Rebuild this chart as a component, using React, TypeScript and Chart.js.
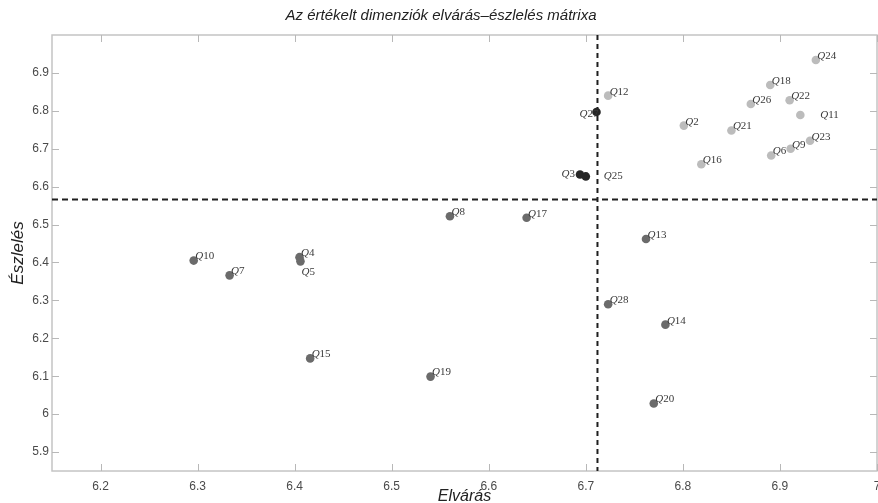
import React, { useEffect, useRef } from "react";
import { Chart, registerables } from "chart.js";

Chart.register(...registerables);

// ---- Data ----
const TITLE = "Az értékelt dimenziók elvárás–észlelés mátrixa";
const X_TITLE = "Elvárás";
const Y_TITLE = "Észlelés";

// Upper-right quadrant (light grey)
const LIGHT_NAMES = ["Q24", "Q18", "Q26", "Q22", "Q11", "Q2", "Q21", "Q6", "Q9", "Q23", "Q16", "Q12"];
const LIGHT_X = [6.937, 6.89, 6.87, 6.91, 6.921, 6.801, 6.85, 6.891, 6.911, 6.931, 6.819, 6.723];
const LIGHT_Y = [6.934, 6.868, 6.818, 6.828, 6.789, 6.761, 6.748, 6.682, 6.7, 6.721, 6.659, 6.84];

// Near the means (dark)
const DARK_NAMES = ["Q27", "Q3", "Q25"];
const DARK_X = [6.711, 6.694, 6.7];
const DARK_Y = [6.797, 6.632, 6.627];

// Others (medium grey)
const MID_NAMES = ["Q10", "Q7", "Q4", "Q5", "Q15", "Q19", "Q8", "Q17", "Q13", "Q28", "Q14", "Q20"];
const MID_X = [6.296, 6.333, 6.405, 6.406, 6.416, 6.54, 6.56, 6.639, 6.762, 6.723, 6.782, 6.77];
const MID_Y = [6.405, 6.366, 6.414, 6.403, 6.147, 6.099, 6.522, 6.518, 6.462, 6.29, 6.236, 6.028];

const MEAN_X = 6.712;
const MEAN_Y = 6.566;

const X_MIN = 6.15;
const X_MAX = 7.0;
const Y_MIN = 5.85;
const Y_MAX = 7.0;
const X_TICKS = [6.2, 6.3, 6.4, 6.5, 6.6, 6.7, 6.8, 6.9, 7];
const Y_TICKS = [5.9, 6, 6.1, 6.2, 6.3, 6.4, 6.5, 6.6, 6.7, 6.8, 6.9];

// ---- Label placement (style, not data) ----
type Place = { dx: number; dy: number; align: "left" | "right" };
const DEFAULT_PLACE: Place = { dx: 1.5, dy: -4, align: "left" };
const LABEL_PLACE: Record<string, Place> = {
  Q11: { dx: 20, dy: 0, align: "left" },
  Q25: { dx: 18, dy: 0, align: "left" },
  Q27: { dx: 2, dy: 2, align: "right" },
  Q3: { dx: -5, dy: 0, align: "right" },
  Q5: { dx: 1, dy: 11, align: "left" },
};

const toPoints = (xs: number[], ys: number[]) => xs.map((x, i) => ({ x, y: ys[i] }));

const framePlugin = {
  id: "frameAndMeans",
  beforeDatasetsDraw(chart: any) {
    const { ctx, chartArea: a, scales } = chart;
    const xs = scales.x;
    const ys = scales.y;
    ctx.save();
    // frame
    ctx.strokeStyle = "#c4c4c4";
    ctx.lineWidth = 1.5;
    ctx.strokeRect(a.left, a.top, a.right - a.left, a.bottom - a.top);
    // inward ticks
    ctx.lineWidth = 1;
    ctx.strokeStyle = "#b8b8b8";
    const TL = 7;
    X_TICKS.forEach((v) => {
      const px = Math.round(xs.getPixelForValue(v)) + 0.5;
      ctx.beginPath();
      ctx.moveTo(px, a.bottom);
      ctx.lineTo(px, a.bottom - TL);
      ctx.moveTo(px, a.top);
      ctx.lineTo(px, a.top + TL);
      ctx.stroke();
    });
    Y_TICKS.forEach((v) => {
      const py = Math.round(ys.getPixelForValue(v)) + 0.5;
      ctx.beginPath();
      ctx.moveTo(a.left, py);
      ctx.lineTo(a.left + TL, py);
      ctx.moveTo(a.right, py);
      ctx.lineTo(a.right - TL, py);
      ctx.stroke();
    });
    // mean lines
    ctx.strokeStyle = "#1e1e1e";
    ctx.lineWidth = 2;
    ctx.setLineDash([5, 4]);
    const mx = xs.getPixelForValue(MEAN_X);
    const my = ys.getPixelForValue(MEAN_Y);
    ctx.beginPath();
    ctx.moveTo(mx, a.top);
    ctx.lineTo(mx, a.bottom);
    ctx.stroke();
    ctx.setLineDash([6, 4]);
    ctx.beginPath();
    ctx.moveTo(a.left, my);
    ctx.lineTo(a.right, my);
    ctx.stroke();
    ctx.restore();
  },
  afterDatasetsDraw(chart: any) {
    const { ctx } = chart;
    ctx.save();
    ctx.fillStyle = "#3a3a3a";
    ctx.textBaseline = "middle";
    chart.data.datasets.forEach((ds: any, di: number) => {
      const meta = chart.getDatasetMeta(di);
      meta.data.forEach((el: any, i: number) => {
        const name: string = ds.names[i];
        const place = LABEL_PLACE[name] || DEFAULT_PLACE;
        const q = name.charAt(0);
        const num = name.slice(1);
        ctx.font = "italic 11px 'Liberation Serif', serif";
        const wq = ctx.measureText(q).width;
        ctx.font = "11px 'Liberation Serif', serif";
        const wn = ctx.measureText(num).width;
        let x = el.x + place.dx;
        if (place.align === "right") x -= wq + wn;
        const y = el.y + place.dy;
        ctx.textAlign = "left";
        ctx.font = "italic 11px 'Liberation Serif', serif";
        ctx.fillText(q, x, y);
        ctx.font = "11px 'Liberation Serif', serif";
        ctx.fillText(num, x + wq, y);
      });
    });
    ctx.restore();
  },
  afterDraw(chart: any) {
    const { ctx, chartArea: a } = chart;
    ctx.save();
    ctx.fillStyle = "#222";
    ctx.textAlign = "center";
    ctx.textBaseline = "middle";
    ctx.font = "italic 15px 'Liberation Sans', Arial, sans-serif";
    ctx.fillText(TITLE, 441, 16);
    ctx.font = "italic 16px 'Liberation Sans', Arial, sans-serif";
    ctx.fillText(X_TITLE, (a.left + a.right) / 2, 497);
    ctx.translate(18, (a.top + a.bottom) / 2);
    ctx.rotate(-Math.PI / 2);
    ctx.font = "italic 17px 'Liberation Sans', Arial, sans-serif";
    ctx.fillText(Y_TITLE, 0, 0);
    ctx.restore();
  },
};

export default function App() {
  const ref = useRef<HTMLCanvasElement | null>(null);

  useEffect(() => {
    if (!ref.current) return;
    const chart = new Chart(ref.current, {
      type: "scatter",
      data: {
        datasets: [
          {
            label: "light",
            names: LIGHT_NAMES,
            data: toPoints(LIGHT_X, LIGHT_Y),
            backgroundColor: "#bcbcbc",
            borderColor: "#b4b4b4",
            borderWidth: 0,
            pointRadius: 4.3,
          } as any,
          {
            label: "mid",
            names: MID_NAMES,
            data: toPoints(MID_X, MID_Y),
            backgroundColor: "#6b6b6b",
            borderColor: "#6b6b6b",
            borderWidth: 0,
            pointRadius: 4.3,
          } as any,
          {
            label: "dark",
            names: DARK_NAMES,
            data: toPoints(DARK_X, DARK_Y),
            backgroundColor: "#262626",
            borderColor: "#262626",
            borderWidth: 0,
            pointRadius: 4.3,
          } as any,
        ],
      },
      options: {
        animation: false,
        responsive: false,
        layout: { padding: { top: 35, right: 1, left: 0, bottom: 0 }, autoPadding: false } as any,
        plugins: {
          legend: { display: false },
          title: { display: false },
          tooltip: { enabled: false },
        },
        scales: {
          x: {
            type: "linear",
            min: X_MIN,
            max: X_MAX,
            grid: { display: false, drawTicks: false },
            border: { display: false },
            afterBuildTicks: (s: any) => {
              s.ticks = X_TICKS.map((v) => ({ value: v }));
            },
            afterFit: (s: any) => {
              s.height = 32;
              s.paddingLeft = 0;
              s.paddingRight = 0;
              s.paddingTop = 0;
              s.paddingBottom = 0;
            },
            ticks: {
              padding: 8,
              maxRotation: 0,
              autoSkip: false,
              color: "#4a4a4a",
              font: { family: "'Liberation Sans', Arial, sans-serif", size: 12 },
              callback: (v: any) => String(v),
            },
          },
          y: {
            type: "linear",
            min: Y_MIN,
            max: Y_MAX,
            grid: { display: false, drawTicks: false },
            border: { display: false },
            afterBuildTicks: (s: any) => {
              s.ticks = Y_TICKS.map((v) => ({ value: v }));
            },
            afterFit: (s: any) => {
              s.width = 52;
              s.paddingLeft = 0;
              s.paddingRight = 0;
              s.paddingTop = 0;
              s.paddingBottom = 0;
            },
            ticks: {
              padding: 3,
              autoSkip: false,
              color: "#4a4a4a",
              font: { family: "'Liberation Sans', Arial, sans-serif", size: 12 },
              callback: (v: any) => String(v),
            },
          },
        },
      } as any,
      plugins: [framePlugin],
    });
    return () => chart.destroy();
  }, []);

  return (
    <div style={{ position: "fixed", left: 0, top: 0, width: 878, height: 503, background: "#fff" }}>
      <canvas ref={ref} width={878} height={503} style={{ display: "block" }} />
    </div>
  );
}
